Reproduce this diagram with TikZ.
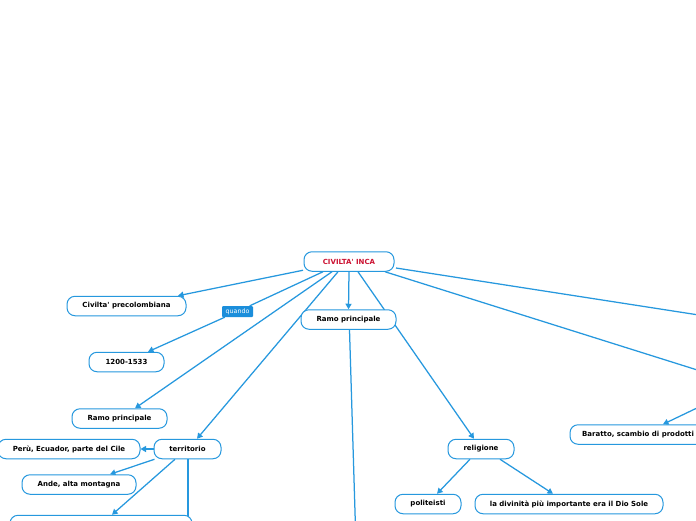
\documentclass[tikz,border=0pt]{standalone}
\usepackage{fontspec}
\setmainfont{DejaVu Sans}
\usetikzlibrary{arrows.meta}
\pgfdeclarelayer{background}
\pgfsetlayers{background,main}
\definecolor{edgeblue}{RGB}{38,152,222}
\definecolor{tagblue}{RGB}{27,142,219}
\definecolor{titlered}{RGB}{204,18,50}
\tikzset{
  box/.style={draw=edgeblue, line width=1pt, rounded corners=8pt, fill=white,
    minimum height=19.5pt, inner sep=0pt, text=black,
    font=\bfseries\fontsize{7}{8}\selectfont},
  tag/.style={fill=tagblue, text=white, rounded corners=1pt, inner sep=0pt,
    minimum width=31pt, minimum height=11pt, font=\fontsize{6.3}{7}\selectfont},
  edge/.style={draw=edgeblue, line width=1.25pt},
  arr/.style={edge, -{Triangle[length=5.5pt,width=6pt]}}
}
\begin{document}
\begin{tikzpicture}[x=1pt,y=-1pt]
\useasboundingbox (0,0) rectangle (696,520);
\clip (0,0) rectangle (696,520);
% nodes
\node[box, minimum width=90pt, text=titlered] (civ) at (349,261.5) {CIVILTA\textquotesingle\ INCA};
\node[box, minimum width=119pt] (prec) at (126.5,306) {Civilta\textquotesingle\ precolombiana};
\node[tag] (q) at (237.5,311.5) {quando};
\node[box, minimum width=75pt] (y1200) at (126.5,362) {1200-1533};
\node[box, minimum width=95pt] (ramoL) at (119.5,418.5) {Ramo principale};
\node[box, minimum width=95pt] (ramoC) at (348.5,319.5) {Ramo principale};
\node[box, minimum width=67pt] (terr) at (187.5,449) {territorio};
\node[box, minimum width=142pt] (peru) at (69,449) {Perù, Ecuador, parte del Cile};
\node[box, minimum width=114pt] (ande) at (79,484.5) {Ande, alta montagna};
\node[box, minimum width=182pt] (big) at (101,525) {};
\node[box, minimum width=66pt] (relig) at (481,449) {religione};
\node[box, minimum width=66pt] (polit) at (428,504) {politeisti};
\node[box, minimum width=188pt] (dio) at (569,504) {la divinità più importante era il Dio Sole};
\node[box, minimum width=136pt] (barat) at (638,434.5) {Baratto, scambio di prodotti};
\coordinate (off1) at (760,324.5);
\coordinate (off2) at (745,385);
\coordinate (off3) at (356,545);
\coordinate (off4) at (188,545);
% edges
\begin{pgfonlayer}{background}
\clip (0,0) rectangle (696,520);
\fill[white] (0,0) rectangle (696,520);
\draw[arr] ([xshift=-0.5pt,yshift=1.5pt]civ.south west) -- ([xshift=51.5pt]prec.north);
\draw[edge] ([xshift=-26pt]civ.south) -- (q);
\draw[arr] (q) -- ([xshift=21.5pt]y1200.north);
\draw[arr] ([xshift=-17pt]civ.south) -- ([xshift=15.5pt]ramoL.north);
\draw[arr] ([xshift=-11pt]civ.south) -- ([xshift=9.5pt]terr.north);
\draw[arr] (civ.south) -- (ramoC.north);
\draw[arr] ([xshift=9pt]civ.south) -- ([xshift=-7pt]relig.north);
\draw[edge] ([xshift=1.5pt,yshift=-6.5pt]civ.east) -- (off1);
\draw[edge] ([xshift=36pt]civ.south) -- (off2);
\draw[arr] (off2) -- ([xshift=25pt]barat.north);
\draw[edge] ([xshift=1pt]ramoC.south) -- (off3);
\draw[arr] (terr.west) -- (peru.east);
\draw[arr] ([xshift=1pt]terr.south west) -- ([xshift=31pt]ande.north);
\draw[arr] ([xshift=-12.5pt]terr.south) -- ([xshift=11pt]big.north);
\draw[edge] ([xshift=0.5pt]terr.south) -- (off4);
\draw[arr] ([xshift=-11pt]relig.south) -- ([xshift=9pt]polit.north);
\draw[arr] ([xshift=19pt]relig.south) -- ([xshift=-16pt]dio.north);
\end{pgfonlayer}
\end{tikzpicture}
\end{document}
